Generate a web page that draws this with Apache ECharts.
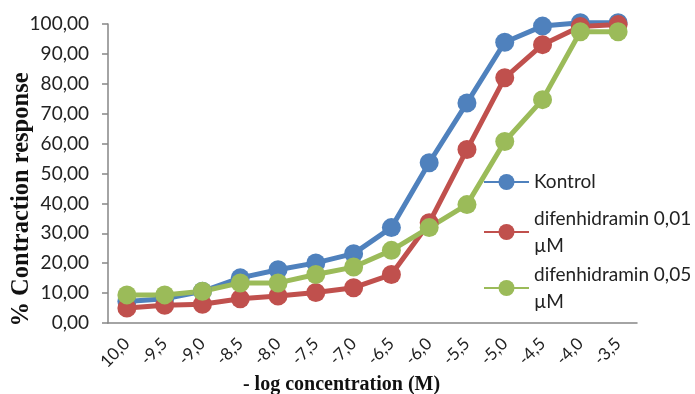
<!DOCTYPE html>
<html>
<head>
<meta charset="utf-8">
<script src="https://cdn.jsdelivr.net/npm/echarts@6/dist/echarts.min.js"></script>
<style>
html,body{margin:0;padding:0;background:#fff;}
#c{width:695px;height:394px;}
</style>
</head>
<body>
<div id="c"></div>
<script>
const categories = ['10,0','-9,5','-9,0','-8,5','-8,0','-7,5','-7,0','-6,5','-6,0','-5,5','-5,0','-4,5','-4,0','-3,5'];
const seriesNames = ['Kontrol', 'difenhidramin 0,01 µM', 'difenhidramin 0,05 µM'];
const kontrol = [7.2, 8.1, 10.6, 15.1, 17.8, 20.1, 23.2, 31.9, 53.6, 73.6, 93.9, 99.3, 100.4, 100.4];
const difen001 = [5.0, 5.9, 6.3, 8.1, 9.0, 10.2, 11.8, 16.2, 33.5, 58.0, 82.0, 93.1, 99.2, 99.8];
const difen005 = [9.4, 9.4, 10.6, 13.4, 13.4, 16.2, 18.7, 24.3, 31.9, 39.6, 60.7, 74.7, 97.4, 97.4];
const yTicks = {min: 0, max: 100, interval: 10};
const colors = ['#4F81BD', '#C0504D', '#9BBB59'];
const values = [kontrol, difen001, difen005];

const chart = echarts.init(document.getElementById('c'));
const labelFont = 'Lato, "Open Sans", sans-serif';
const legendBase = {
  orient: 'vertical', left: 483, padding: 0, itemWidth: 45, itemHeight: 20,
  textStyle: {fontFamily: labelFont, fontSize: 19, color: '#222', lineHeight: 27}
};
chart.setOption({
  animation: false,
  backgroundColor: '#fff',
  grid: {left: 108, right: 58, top: 24, bottom: 71, containLabel: false, outerBoundsMode: 'none'},
  legend: [
    Object.assign({}, legendBase, {top: 168.5, data: [seriesNames[0]]}),
    Object.assign({}, legendBase, {top: 191.5, data: [seriesNames[1]],
      formatter: n => n.replace(' µM', '\nµM'),
      textStyle: Object.assign({}, legendBase.textStyle, {padding: [27, 0, 0, 0]})}),
    Object.assign({}, legendBase, {top: 247.5, data: [seriesNames[2]],
      formatter: n => n.replace(' µM', '\nµM'),
      textStyle: Object.assign({}, legendBase.textStyle, {padding: [27, 0, 0, 0]})})
  ],
  xAxis: {
    type: 'category', data: categories, boundaryGap: true,
    name: '- log concentration (M)', nameLocation: 'middle', nameGap: 52, nameMoveOverlap: false,
    nameTextStyle: {fontFamily: '"Liberation Serif", serif', fontWeight: 'bold', fontSize: 20, color: '#111', padding: [0, 62, 0, 0]},
    axisLine: {show: true, lineStyle: {color: '#868686', width: 1.5}},
    axisTick: {show: false},
    axisLabel: {rotate: 45, margin: 18, fontFamily: labelFont, fontSize: 17, color: '#222', interval: 0}
  },
  yAxis: {
    type: 'value', min: yTicks.min, max: yTicks.max, interval: yTicks.interval,
    name: '% Contraction response', nameLocation: 'middle', nameGap: 74, nameMoveOverlap: false,
    nameTextStyle: {fontFamily: '"Liberation Serif", serif', fontWeight: 'bold', fontSize: 24.5, color: '#111', padding: [0, 52, 0, 0]},
    axisLine: {show: true, lineStyle: {color: '#868686', width: 1.5}},
    axisTick: {show: true, length: 6, lineStyle: {color: '#868686', width: 1.5}},
    splitLine: {show: false},
    axisLabel: {margin: 19, fontFamily: labelFont, fontSize: 19, color: '#222',
      formatter: v => v.toFixed(2).replace('.', ',')}
  },
  series: values.map((d, i) => ({
    name: seriesNames[i], type: 'line', data: d, clip: false,
    symbol: 'circle', symbolSize: 19, showSymbol: true,
    lineStyle: {width: 5, color: colors[i]},
    itemStyle: {color: colors[i]}
  }))
});
</script>
</body>
</html>
